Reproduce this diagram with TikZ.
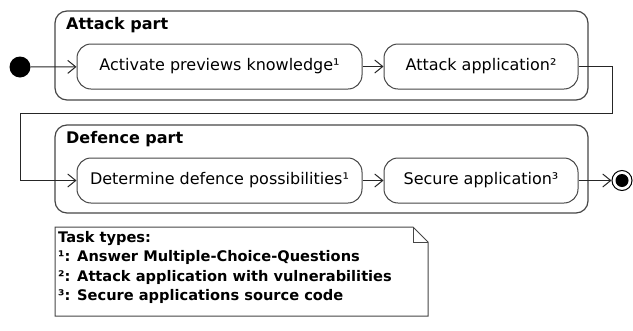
\documentclass[tikz,border=0pt]{standalone}
\usepackage{fontspec}
\setmainfont{DejaVu Sans}
\usetikzlibrary{arrows.meta,positioning}
\definecolor{linegray}{RGB}{70,70,70}
\tikzset{
    partbox/.style={
        draw=linegray,
        line width=1.2pt,
        rounded corners=12pt,
        inner sep=0pt
    },
    % one activity of a part
    actbox/.style={
        draw=linegray,
        line width=1pt,
        fill=white,
        rounded corners=14pt,
        minimum height=45pt,
        inner sep=0pt,
        font=\fontsize{16}{18}\selectfont
    },
    flowarrow/.style={
        line width=1pt,
        black!85,
        -{Straight Barb[length=8pt,width=13pt]}
    },
    parttitle/.style={anchor=west, inner sep=0pt, font=\fontsize{16}{18}\selectfont\bfseries}
}

\begin{document}
\begin{tikzpicture}[x=1pt,y=-1pt]
    \useasboundingbox (0,0) rectangle (633,330);
    % the two parts
    \node[partbox, minimum width=533pt, minimum height=89pt] (attackpart) at (321.5,55.5) {};
    \node[partbox, minimum width=533pt, minimum height=88pt] (defencepart) at (321.5,169) {};
    \node[parttitle] (attacktitle) at (66,25) {Attack part};
    \node[parttitle] (defencetitle) at (66,139) {Defence part};

    \node[actbox, minimum width=285pt] (know) at (219.5,66.5) {Activate previews knowledge¹};
    \node[actbox, minimum width=194pt] (attack) at (481,66.5) {Attack application²};
    \node[actbox, minimum width=285pt] (determine) at (219.5,180.5) {Determine defence possibilities¹};
    \node[actbox, minimum width=194pt] (secure) at (481,180.5) {Secure application³};

    \node[circle, fill=black, minimum size=21pt, inner sep=0pt] (start) at (20,67) {};
    \node[circle, draw=black, line width=1pt, fill=white, minimum size=20pt, inner sep=0pt] (stop) at (622,180.5) {};
    \node[circle, fill=black, minimum size=13pt, inner sep=0pt] (stopdot) at (stop) {};

    \coordinate (turnA) at (612,113);
    \coordinate (turnB) at (20,113);

    \draw[flowarrow] (start) -- (know);
    \draw[flowarrow] (know) -- (attack);
    \draw[flowarrow] (attack.east) -| (turnA) -- (turnB) |- (determine.west);
    \draw[flowarrow] (determine) -- (secure);
    \draw[flowarrow] (secure) -- (stop);

    % note
    \draw[linegray, line width=1pt, fill=white] (55,227) -- (413,227) -- (428,242) -- (428,316) -- (55,316) -- cycle;
    \draw[linegray, line width=1pt] (413,227) -- (413,242) -- (428,242);
    \node[anchor=north west, inner sep=0pt, align=left, font=\fontsize{14.6}{19.5}\selectfont\bfseries] (note) at (58,231)
        {Task types:\\¹: Answer Multiple-Choice-Questions\\²: Attack application with vulnerabilities\\³: Secure applications source code};
\end{tikzpicture}
\end{document}
